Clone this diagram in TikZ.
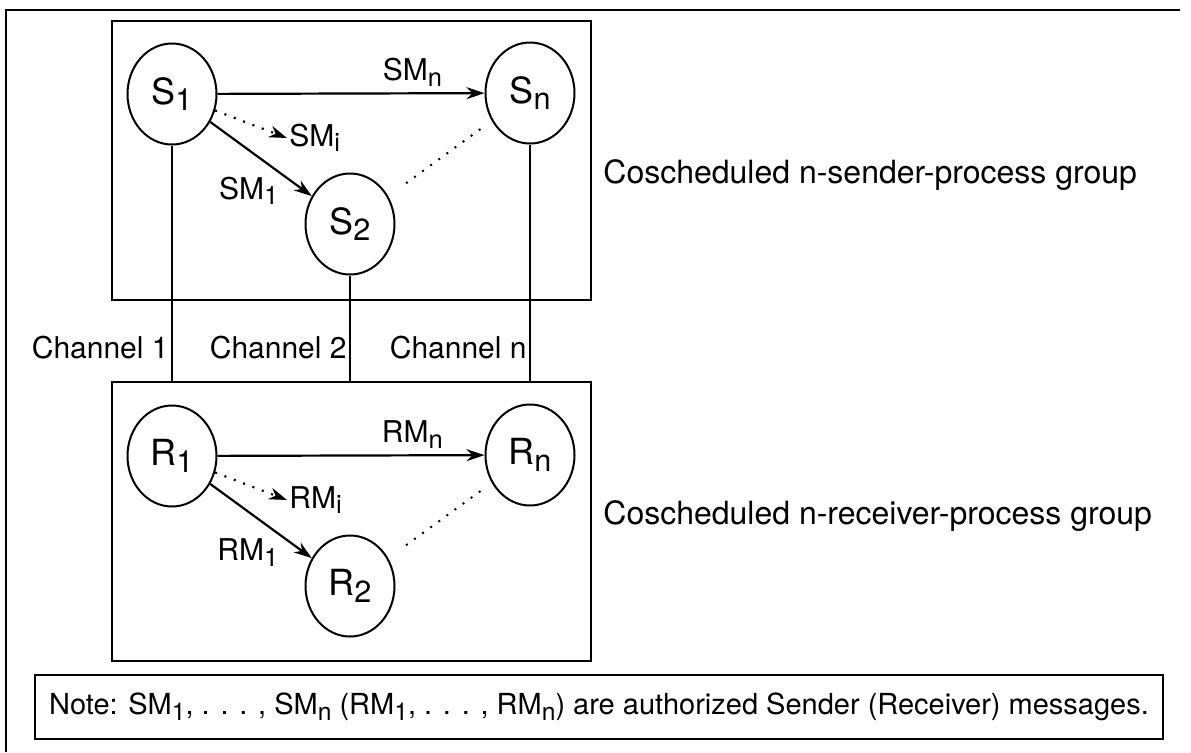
\documentclass[tikz,border=0pt]{standalone}
\usepackage{fontspec}
\setmainfont{TeX Gyre Heros}
\usetikzlibrary{shapes.geometric,arrows.meta}
\newcommand{\lowsub}[1]{\raisebox{-0.35ex}{\scalebox{0.85}{#1}}}

\begin{document}
\begin{tikzpicture}[x=0.5pt,y=-0.5pt,
  proc/.style={draw,ellipse,line width=1pt,minimum width=44.5pt,minimum height=50.5pt,inner sep=0pt,font=\fontsize{18}{21}\selectfont},
  grp/.style={draw,line width=1pt,minimum width=239.5pt,minimum height=139.5pt,inner sep=0pt},
  msg/.style={font=\fontsize{15}{17}\selectfont,inner sep=1pt},
  send/.style={line width=1.1pt,-{Stealth[length=9pt,width=6pt]}},
  maybe/.style={line width=1pt,dash pattern=on 1pt off 4pt},
  chan/.style={line width=0.8pt},
  chanlbl/.style={font=\fontsize{15}{18}\selectfont,inner xsep=1.5pt,inner ysep=0pt},
  grplbl/.style={font=\fontsize{16}{19}\selectfont,inner sep=0pt}]
\useasboundingbox (0,0) rectangle (1191,752);
\draw[line width=1pt] (1180,10) -- (6,10) -- (6,752);

\node[grp] (sgroup) at (351.5,160) {};
\node[proc] (s1) at (172,94) {S\lowsub{1}};
\node[proc] (sn) at (530,93) {S\lowsub{n}};
\node[proc] (s2) at (350,224) {S\lowsub{2}};
\node[msg,anchor=west] (smi) at (287,138) {SM\lowsub{i}};
\draw[send] (s1) -- node[msg,above=2pt,pos=0.73] (smn) {SM\lowsub{n}} (sn);
\draw[send,dash pattern=on 1pt off 4pt] (s1) -- (smi.west);
\draw[send] (s1) -- node[msg,below left,pos=0.7] (sm1) {SM\lowsub{1}} (s2);
\draw[maybe,shorten <=11pt,shorten >=3pt] (s2) -- (sn);
\node[grplbl,anchor=west] (slbl) at (603,175) {Coscheduled n-sender-process group};

\node[grp] (rgroup) at (351.5,521) {};
\node[proc] (r1) at (172,456) {R\lowsub{1}};
\node[proc] (rn) at (530,455) {R\lowsub{n}};
\node[proc] (r2) at (350,586) {R\lowsub{2}};
\node[msg,anchor=west] (rmi) at (287,500) {RM\lowsub{i}};
\draw[send] (r1) -- node[msg,above=2pt,pos=0.73] (rmn) {RM\lowsub{n}} (rn);
\draw[send,dash pattern=on 1pt off 4pt] (r1) -- (rmi.west);
\draw[send] (r1) -- node[msg,below left,pos=0.7] (rm1) {RM\lowsub{1}} (r2);
\draw[maybe,shorten <=11pt,shorten >=3pt] (r2) -- (rn);
\node[grplbl,anchor=west] (rlbl) at (603,516) {Coscheduled n-receiver-process group};

\draw[chan] (s1) -- (s1 |- rgroup.north);
\draw[chan] (s2) -- (s2 |- rgroup.north);
\draw[chan] (sn) -- (sn |- rgroup.north);
\coordinate (chrow) at (0,348);
\node[chanlbl,anchor=east] (ch1) at (s1 |- chrow) {Channel 1};
\node[chanlbl,anchor=east] (ch2) at (s2 |- chrow) {Channel 2};
\node[chanlbl,anchor=east] (chn) at (sn |- chrow) {Channel n};

\node[draw,line width=1pt,minimum width=564pt,minimum height=32pt,inner sep=0pt,font=\fontsize{14.5}{17}\selectfont] (note) at (599,707)
  {Note: SM\lowsub{1}, . . . , SM\lowsub{n} (RM\lowsub{1}, . . . , RM\lowsub{n}) are authorized Sender (Receiver) messages.};
\end{tikzpicture}
\end{document}
